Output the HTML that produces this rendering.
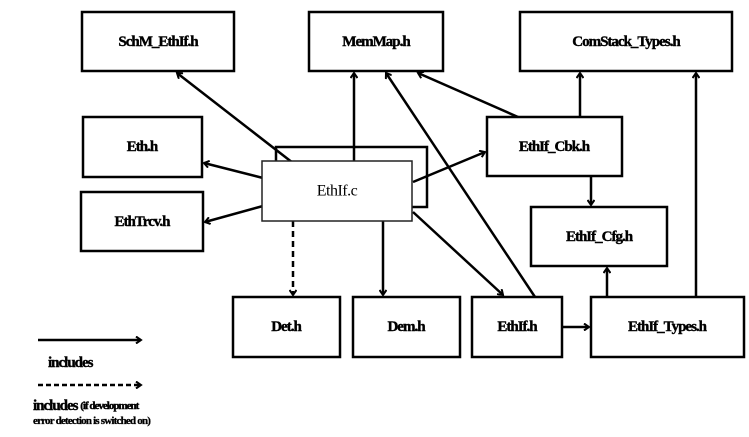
<!DOCTYPE html>
<html><head><meta charset="utf-8"><style>
html,body{margin:0;padding:0;background:#fff;}
svg{display:block}
.b{fill:#fff;stroke:#000;stroke-width:2.5}
.t{font-family:"Liberation Serif",serif;font-weight:bold;font-size:15px;letter-spacing:-1px;text-anchor:middle;dominant-baseline:central;stroke:#000;stroke-width:0.4}
.l{stroke:#000;stroke-width:2.5;fill:none}
</style></head><body>
<svg width="749" height="437" viewBox="0 0 749 437" xmlns="http://www.w3.org/2000/svg">
<defs>
<marker id="a" markerWidth="8" markerHeight="8" refX="6" refY="4" orient="auto" markerUnits="userSpaceOnUse">
<path d="M1,0.5 L6,4 L1,7.5" fill="none" stroke="#000" stroke-width="2"/>
</marker>
</defs>
<rect class="b" x="82" y="12" width="152" height="59"/><text class="t" x="158" y="42">SchM_EthIf.h</text>
<rect class="b" x="309" y="12" width="134" height="59"/><text class="t" x="376" y="42">MemMap.h</text>
<rect class="b" x="520" y="12" width="212" height="59"/><text class="t" x="626" y="42">ComStack_Types.h</text>
<rect class="b" x="83" y="117" width="119" height="60"/><text class="t" x="142" y="147">Eth.h</text>
<rect class="b" x="81" y="192" width="122" height="59"/><text class="t" x="142" y="222">EthTrcv.h</text>
<rect class="b" x="487" y="117" width="135" height="59"/><text class="t" x="554" y="147">EthIf_Cbk.h</text>
<rect class="b" x="531" y="207" width="136" height="59"/><text class="t" x="599" y="237">EthIf_Cfg.h</text>
<rect class="b" x="233" y="297" width="107" height="60"/><text class="t" x="286" y="327">Det.h</text>
<rect class="b" x="353" y="297" width="107" height="60"/><text class="t" x="406" y="327">Dem.h</text>
<rect class="b" x="472" y="297" width="90" height="60"/><text class="t" x="517" y="327">EthIf.h</text>
<rect class="b" x="591" y="297" width="153" height="60"/><text class="t" x="667" y="327">EthIf_Types.h</text>
<rect class="b" x="276" y="147" width="151" height="60"/>
<line class="l" x1="293" y1="163" x2="177" y2="73" marker-end="url(#a)"/>
<line class="l" x1="354" y1="161" x2="354" y2="73" marker-end="url(#a)"/>
<line class="l" x1="535" y1="297" x2="386" y2="73" marker-end="url(#a)"/>
<line class="l" x1="518" y1="117" x2="418" y2="73" marker-end="url(#a)"/>
<line class="l" x1="580" y1="117" x2="580" y2="73" marker-end="url(#a)"/>
<line class="l" x1="696" y1="297" x2="696" y2="73" marker-end="url(#a)"/>
<line class="l" x1="591" y1="176" x2="591" y2="205" marker-end="url(#a)"/>
<line class="l" x1="607" y1="297" x2="607" y2="268" marker-end="url(#a)"/>
<line class="l" x1="383" y1="221" x2="383" y2="295" marker-end="url(#a)"/>
<line class="l" x1="293" y1="221" x2="293" y2="295" stroke-dasharray="6,4" marker-end="url(#a)"/>
<line class="l" x1="413" y1="212" x2="503" y2="295" marker-end="url(#a)"/>
<line class="l" x1="562" y1="327" x2="589" y2="327" marker-end="url(#a)"/>
<line class="l" x1="263" y1="178" x2="204" y2="163" marker-end="url(#a)"/>
<line class="l" x1="263" y1="206" x2="205" y2="222" marker-end="url(#a)"/>
<line class="l" x1="413" y1="182" x2="485" y2="152" marker-end="url(#a)"/>
<rect x="262" y="161" width="150" height="60" fill="#fff" stroke="#222" stroke-width="1.5"/>
<text x="337" y="191" font-family="Liberation Serif,serif" font-size="16" text-anchor="middle" dominant-baseline="central" letter-spacing="-0.5">EthIf.c</text>
<line class="l" x1="38" y1="340" x2="141" y2="340" marker-end="url(#a)"/>
<text x="48" y="363" font-family="Liberation Serif,serif" font-weight="bold" font-size="15" letter-spacing="-1" stroke="#000" stroke-width="0.4" dominant-baseline="central">includes</text>
<line class="l" x1="38" y1="385" x2="141" y2="385" stroke-dasharray="5,3" stroke-width="2" marker-end="url(#a)"/>
<text x="33" y="406" font-family="Liberation Serif,serif" font-weight="bold" font-size="15" letter-spacing="-1" stroke="#000" stroke-width="0.4" dominant-baseline="central">includes <tspan font-size="11">(if development</tspan></text>
<text x="33" y="421" font-family="Liberation Serif,serif" font-weight="bold" font-size="11" letter-spacing="-0.8" stroke="#000" stroke-width="0.3" dominant-baseline="central">error detection is switched on)</text>
</svg>
</body></html>
